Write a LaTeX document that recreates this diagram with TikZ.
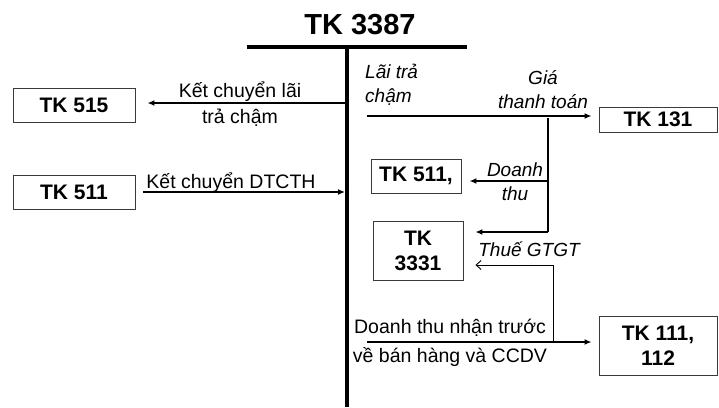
\documentclass[tikz,border=0pt]{standalone}
\usepackage{fontspec}
\setmainfont{Liberation Sans}
\usetikzlibrary{arrows.meta,positioning}
\definecolor{tkInk}{HTML}{000000}
\definecolor{tkFrame}{HTML}{3A3A3A}
\tikzset{
  tk bar/.style={draw=tkInk, line width=4.5pt},
  tk box/.style={draw=tkFrame, line width=0.9pt, inner sep=0pt, align=center, text=tkInk, font=\fontsize{21}{25}\selectfont\bfseries},
  tk arrow/.style={draw=tkInk, line width=1.8pt, -{Latex[length=7pt,width=6pt]}},
  tk line/.style={draw=tkInk, line width=1.8pt},
  tk thin/.style={draw=tkInk, line width=0.9pt},
  tk label/.style={font=\fontsize{19.5}{26}\selectfont, text=tkInk, align=center, inner sep=0pt},
  tk note/.style={font=\fontsize{19}{24}\selectfont\itshape, text=tkInk, align=center, inner sep=0pt},
}

\begin{document}
\begin{tikzpicture}[x=1pt,y=-1pt]
  \useasboundingbox (0,0) rectangle (719,407);
  % T account
  \node[font=\fontsize{29}{30}\selectfont\bfseries, text=tkInk] (title) at (360,25) {TK 3387};
  \coordinate (barL) at (247,47);
  \coordinate (barR) at (467,47);
  \coordinate (barTop) at (347,47);
  \coordinate (barBot) at (347,407);
  \draw[tk bar] (barL) -- (barR);
  \draw[tk bar] (barTop) -- (barBot);

  % accounts
  \node[tk box, minimum width=122pt, minimum height=34pt] (tk515) at (74,105) {TK 515};
  \node[tk box, minimum width=122pt, minimum height=34pt] (tk511) at (74,192) {TK 511};
  \node[tk box, minimum width=118pt, minimum height=25pt] (tk131) at (658,119.5) {TK 131};
  \node[tk box, minimum width=90pt, minimum height=34pt] (tk511b) at (416,176) {TK 511,};
  \node[tk box, minimum width=90pt, minimum height=59pt] (tk3331) at (418,250.5) {TK\\3331};
  \node[tk box, minimum width=118pt, minimum height=59pt] (tk111) at (658,345.5) {TK 111,\\112};

  % debit side
  \coordinate (laiStart) at (345,103);
  \coordinate (dtcthEnd) at (345,192);
  \draw[tk arrow, shorten >=12pt] (laiStart) -- (laiStart -| tk515.east);
  \draw[tk arrow, shorten <=8pt] (tk511.east) -- (dtcthEnd);
  \node[tk label] (lblLai) at (240,104) {Kết chuyển lãi\\trả chậm};
  \node[tk label, anchor=base] (lblDtcth) at (231,188) {Kết chuyển DTCTH};

  % credit side
  \coordinate (saleStart) at (367,116);
  \coordinate (splitTop) at (548,118);
  \coordinate (splitMid) at (548,181);
  \coordinate (splitBot) at (548,232);
  \draw[tk arrow, shorten >=7pt] (saleStart) -- (saleStart -| tk131.west);
  \draw[tk line] (splitTop) -- (splitBot);
  \draw[tk arrow, shorten >=8pt] (splitMid) -- (splitMid -| tk511b.east);
  \draw[tk arrow, shorten >=12pt] (splitBot) -- (splitBot -| tk3331.east);
  \node[tk note, align=left, anchor=west] (lblLaiTra) at (365,85) {Lãi trả\\chậm};
  \node[tk note] (lblGia) at (543,89.5) {Giá\\thanh toán};
  \node[tk note] (lblDoanh) at (515,182) {Doanh\\thu};
  \node[tk note] (lblVat) at (529,249) {Thuế GTGT};

  \coordinate (cashStart) at (367,342);
  \coordinate (vatTop) at (553,265);
  \coordinate (vatBot) at (553,342);
  \draw[tk arrow, shorten >=7pt] (cashStart) -- (cashStart -| tk111.west);
  \draw[tk thin, -{Straight Barb[length=5pt,width=9pt]}, shorten >=12pt] (vatBot) -- (vatTop) -- (vatTop -| tk3331.east);
  \node[tk label, font=\fontsize{19.5}{29}\selectfont] (lblPrepaid) at (450,342.5) {Doanh thu nhận trước\\về bán hàng và CCDV};
\end{tikzpicture}
\end{document}
